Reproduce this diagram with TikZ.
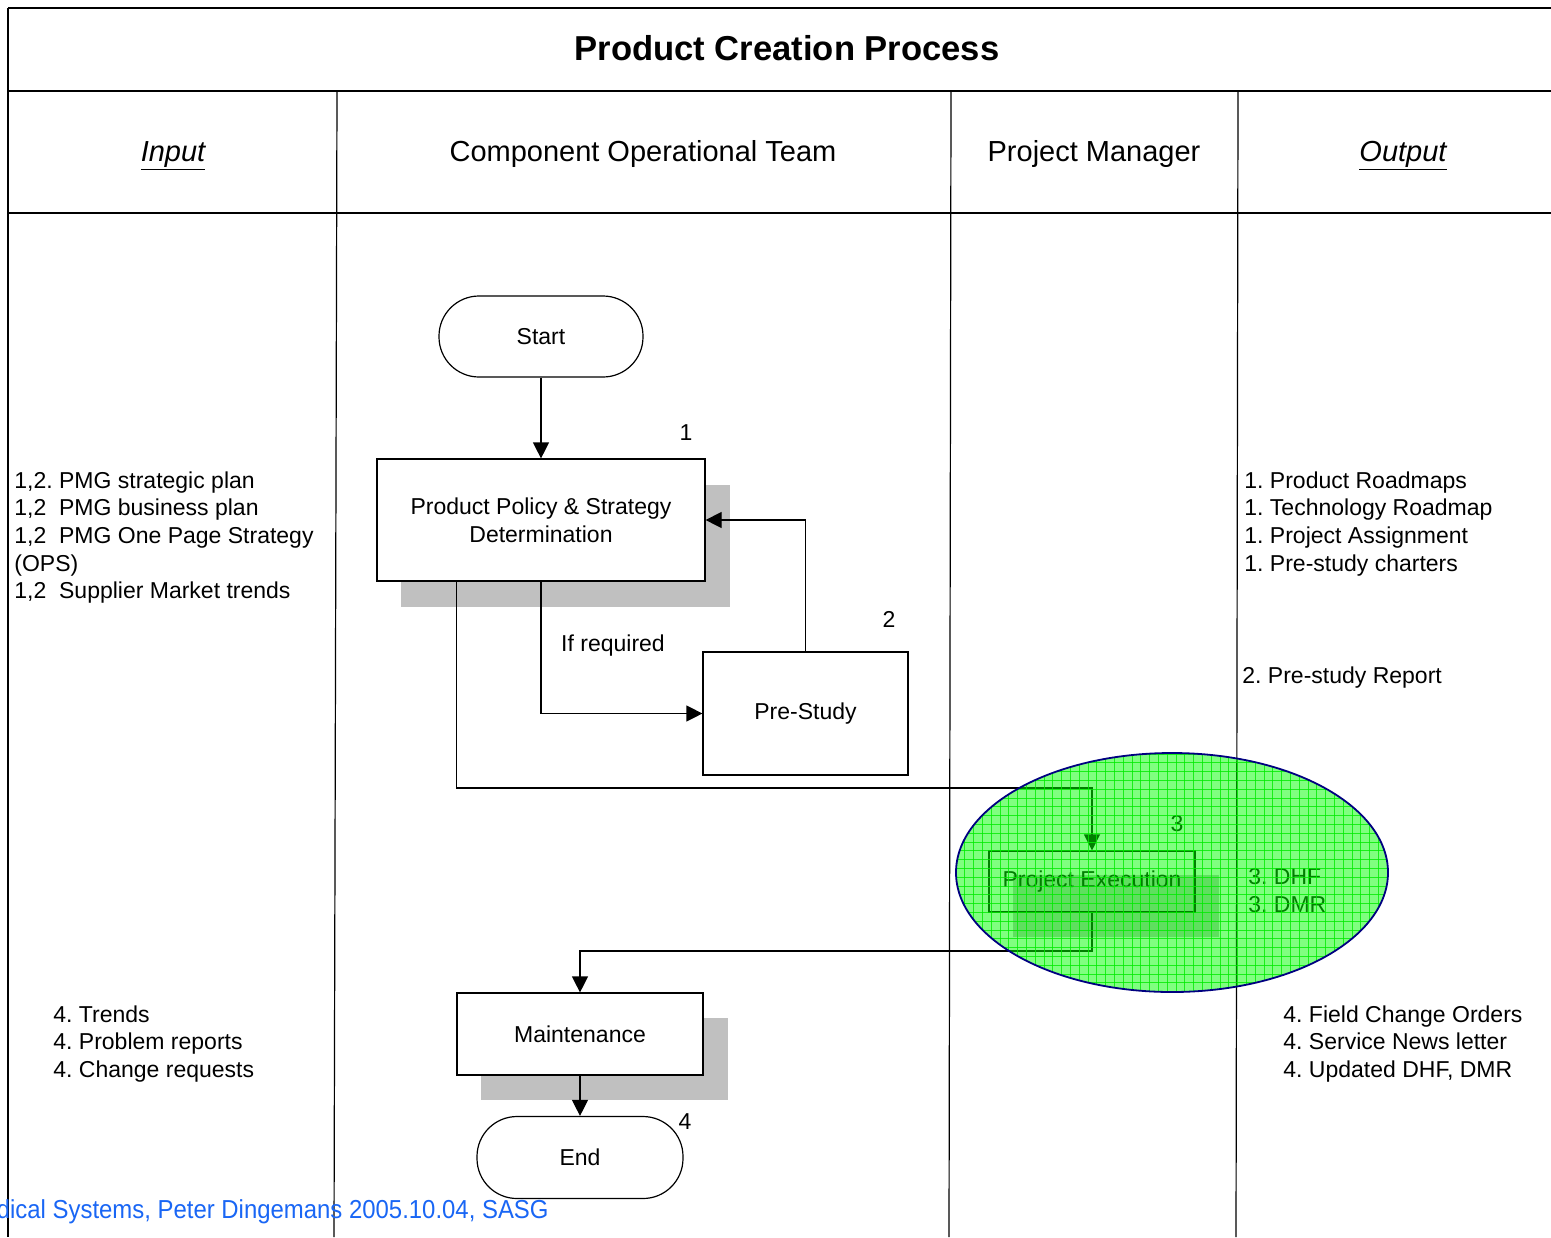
\documentclass[tikz,border=0pt]{standalone}
\usepackage{fontspec}
\setmainfont{Liberation Sans}
\usetikzlibrary{arrows.meta,calc}
\definecolor{shadowgray}{RGB}{192,192,192}
\definecolor{footblue}{RGB}{25,102,245}
\definecolor{navyline}{RGB}{0,0,128}
\definecolor{gridgreen}{RGB}{0,235,0}
\frenchspacing
\begin{document}
\begin{tikzpicture}[x=0.5pt,y=-0.5pt,
  rule/.style={line width=0.6pt},
  arr/.style={line width=0.6pt,-{Triangle[length=8pt,width=8pt]}},
  procbox/.style={draw,line width=0.6pt,fill=white,align=center,font=\fontsize{11.5}{14}\selectfont,inner sep=0pt},
  term/.style={procbox,rounded corners=20pt},
  txt/.style={anchor=base west,font=\fontsize{11.5}{14}\selectfont,inner sep=0pt},
  num/.style={font=\fontsize{11.5}{14}\selectfont,inner sep=0pt},
  shadowbox/.style={fill=shadowgray},
  header/.style={anchor=base,font=\fontsize{14.5}{17}\selectfont,inner sep=0pt}]
\useasboundingbox (0,0) rectangle (1551,1237);
\fill[white] (0,0) rectangle (1551,1237);

% table frame
\draw[rule] (8,8) -- (1551,8);
\draw[rule] (8,8) -- (8,1237);
\draw[rule] (8,91) -- (1551,91);
\draw[rule] (8,213) -- (1551,213);
\draw[rule] (337,91) -- (334,1237);
\draw[rule] (951,91) -- (949,1237);
\draw[rule] (1238,91) -- (1236,1237);

% titles
\node[font=\bfseries\fontsize{17.3}{20}\selectfont,inner sep=0pt] (title) at (787,48) {Product Creation Process};
\node[header] (hin) at (173,161) {\itshape\underline{Input}};
\node[header] (hcot) at (643,161) {Component Operational Team};
\node[header] (hpm) at (1094,161) {Project Manager};
\node[header] (hout) at (1403,161) {\itshape\underline{Output}};

% input texts
\node[txt] (in1) at (14,488) {1,2. PMG strategic plan};
\node[txt] (in2) at (14,515.7) {1,2\ \ PMG business plan};
\node[txt] (in3) at (14,543.4) {1,2\ \ PMG One Page Strategy};
\node[txt] (in4) at (14,571.1) {(OPS)};
\node[txt] (in5) at (14,598.8) {1,2\ \ Supplier Market trends};
\node[txt] (in6) at (53,1022) {4. Trends};
\node[txt] (in7) at (53,1049.7) {4. Problem reports};
\node[txt] (in8) at (53,1077.4) {4. Change requests};

% output texts
\node[txt] (out1) at (1244,488) {1. Product Roadmaps};
\node[txt] (out2) at (1244,515.7) {1. Technology Roadmap};
\node[txt] (out3) at (1244,543.4) {1. Project Assignment};
\node[txt] (out4) at (1244,571.1) {1. Pre-study charters};
\node[txt] (out5) at (1242,683) {2. Pre-study Report};
\node[txt] (out6) at (1248,884) {3. DHF};
\node[txt] (out7) at (1248,912) {3. DMR};
\node[txt] (out8) at (1283,1022) {4. Field Change Orders};
\node[txt] (out9) at (1283,1049.7) {4. Service News letter};
\node[txt] (out10) at (1283,1077.4) {4. Updated DHF, DMR};

% shadows
\fill[shadowbox] (401,485) rectangle (730,607);
\fill[shadowbox] (1013,875) rectangle (1219,937);
\fill[shadowbox] (481,1018) rectangle (728,1100);

% flow nodes
\node[term,minimum width=102pt,minimum height=40.5pt] (start) at (541,336.5) {Start};
\node[procbox,minimum width=164pt,minimum height=61pt] (pps) at (541,520) {Product Policy \& Strategy\\Determination};
\node[procbox,minimum width=102.5pt,minimum height=61.5pt] (pre) at (805.5,713.5) {Pre-Study};
\node[procbox,minimum width=103pt,minimum height=30.5pt,fill=none] (pex) at (1092,881.5) {Project Execution};
\node[procbox,minimum width=123pt,minimum height=41pt] (maint) at (580,1034) {Maintenance};
\node[term,minimum width=103pt,minimum height=41pt] (end) at (580,1157.5) {End};

% labels
\node[num] (l1) at (686,433) {1};
\node[num] (l2) at (889,619) {2};
\node[num] (l3) at (1177,824) {3};
\node[num] (l4) at (685,1122) {4};
\node[num,anchor=base] (lif) at (613,651) {If required};

% connectors
\draw[arr] (start.south) -- (pps.north);
\draw[arr] (pps.south) |- (pre.west);
\draw[arr] (pre.north) |- (pps.east);
\coordinate (bend1) at (1092,788);
\draw[arr] ([xshift=40pt]pps.south west) |- (bend1) -- (pex.north);
\coordinate (bend2) at (1092,951);
\draw[arr] (pex.south) -- (bend2) -| (maint.north);
\draw[arr] (maint.south) -- (end.north);

% green ellipse overlay
\fill[green, fill opacity=0.5] (1172,872.5) ellipse [x radius=216, y radius=119.5];
\begin{scope}
  \clip (1172,872.5) ellipse [x radius=216, y radius=119.5];
  \foreach \gx in {956,964.8,...,1390} {\draw[gridgreen,line width=0.5pt,opacity=0.8] (\gx,750) -- (\gx,995);}
  \foreach \gy in {754,762.8,...,995} {\draw[gridgreen,line width=0.5pt,opacity=0.8] (950,\gy) -- (1392,\gy);}
\end{scope}
\draw[navyline,line width=0.9pt] (1172,872.5) ellipse [x radius=216, y radius=119.5];

% footer (cut at the left edge, as in the reference)
\node[anchor=base east,text=footblue,font=\fontsize{13}{15}\selectfont,inner sep=0pt] (foot) at (549,1218) {\scalebox{0.92}[1]{dical Systems, Peter Dingemans 2005.10.04, SASG}};
\end{tikzpicture}
\end{document}
